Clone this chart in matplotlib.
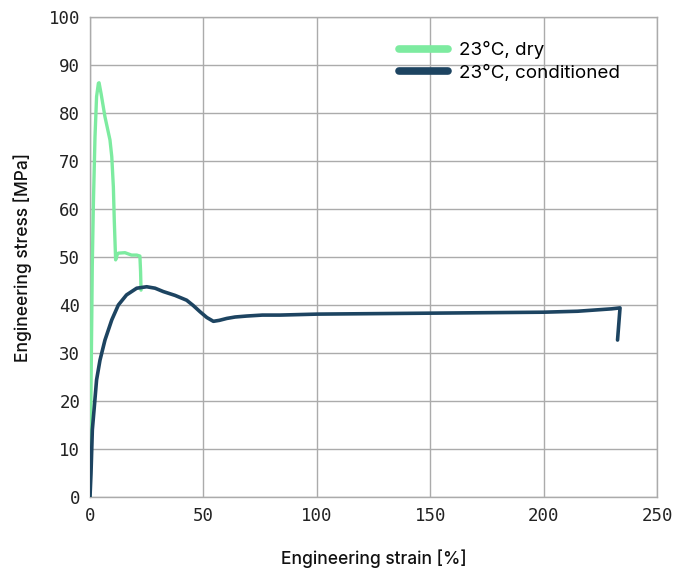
import matplotlib
matplotlib.use("Agg")
import matplotlib.pyplot as plt

# Data
dry_strain = [0, 0.2, 0.5, 0.8, 1.0, 1.5, 2.2, 2.9, 3.7, 4.0, 4.9, 6.6, 8.8, 9.6, 10.3, 10.7, 11.3, 12.0, 12.5, 15.4, 18.3, 20.6, 22.0, 22.3, 22.5]
dry_stress = [0, 10, 25, 38, 48, 61.2, 75, 83.4, 86.2, 86.3, 84, 79.2, 74.4, 70.9, 64.6, 57.7, 49.4, 50.5, 50.8, 50.9, 50.4, 50.4, 50.2, 47, 43.1]

cond_strain = [0, 0.44, 1.03, 1.9, 2.9, 4.4, 6.6, 9.6, 12.5, 16.1, 20.6, 25.0, 28.7, 32.3, 37.5, 42.6, 45.5, 48.5, 51.5, 54.4, 57.0, 60.3, 64.0, 69.1, 76.0, 83.8, 100, 125, 150, 175, 200, 215, 230, 233.7, 232.6]
cond_stress = [0, 4.9, 14, 18.8, 24.4, 28.5, 32.7, 36.9, 40, 42.1, 43.5, 43.8, 43.5, 42.8, 42.0, 41.0, 39.9, 38.6, 37.4, 36.6, 36.8, 37.2, 37.5, 37.7, 37.9, 37.9, 38.1, 38.2, 38.3, 38.4, 38.5, 38.7, 39.2, 39.4, 32.7]

labels = ["23°C, dry", "23°C, conditioned"]
x_ticks = [0, 50, 100, 150, 200, 250]
y_ticks = [0, 10, 20, 30, 40, 50, 60, 70, 80, 90, 100]

fig = plt.figure(figsize=(6.78, 5.76), dpi=100)
ax = fig.add_axes([90/678, 79/576, 567/678, 480/576])

ax.plot(dry_strain, dry_stress, color="#7deba0", lw=2.4, label=labels[0], zorder=3,
        solid_joinstyle="round", solid_capstyle="round")
ax.plot(cond_strain, cond_stress, color="#1d4461", lw=2.6, label=labels[1], zorder=4,
        solid_joinstyle="round", solid_capstyle="round")

ax.set_xlim(0, 250)
ax.set_ylim(0, 100)
ax.set_xticks(x_ticks)
ax.set_yticks(y_ticks)
ax.grid(True, color="#ababab", lw=1.0)
ax.set_axisbelow(True)
for s in ax.spines.values():
    s.set_color("#ababab")
    s.set_linewidth(1.0)
ax.tick_params(length=0, pad=7, labelsize=12.5, colors="#222222")
for lab in ax.get_xticklabels() + ax.get_yticklabels():
    lab.set_family("DejaVu Sans Mono")

ax.set_xlabel("Engineering strain [%]", fontsize=12.5, fontweight="medium", family="Inter", labelpad=18, color="#111111")
ax.set_ylabel("Engineering stress [MPa]", fontsize=12.5, fontweight="medium", family="Inter", labelpad=12, color="#111111")

leg = ax.legend(loc="upper right", bbox_to_anchor=(0.965, 0.985), frameon=False,
                prop={"family": "Inter", "size": 13.5}, handlelength=2.6, handletextpad=0.6,
                labelspacing=0.3)
for h in leg.get_lines():
    h.set_linewidth(5.5)
    h.set_solid_capstyle("round")

fig.savefig("out.png", dpi=100, facecolor="white")
